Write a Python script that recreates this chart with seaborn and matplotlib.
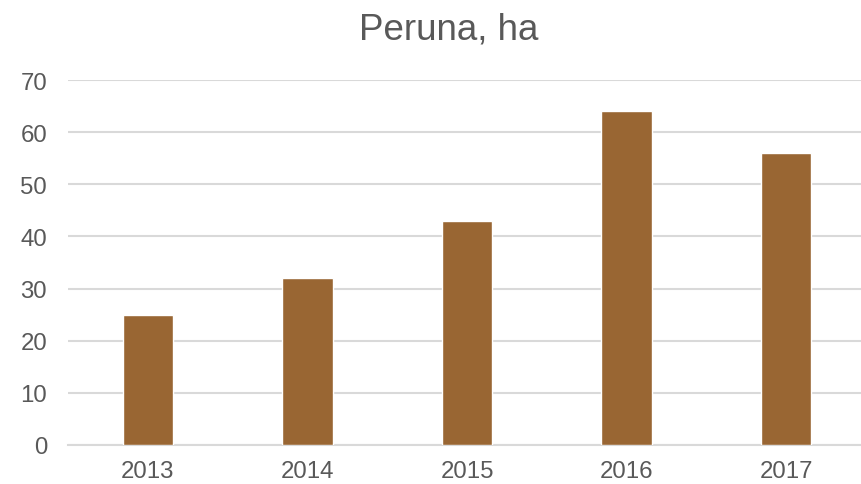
import pandas as pd
import matplotlib.pyplot as plt
import seaborn as sns

years = ['2013', '2014', '2015', '2016', '2017']
hectares = [25, 32, 43, 64, 56]

df = pd.DataFrame({'year': years, 'ha': hectares})

sns.set_style('white')
plt.rcParams['font.family'] = ['Liberation Sans', 'DejaVu Sans']

fig = plt.figure(figsize=(8.61, 4.85), dpi=100)
ax = fig.add_axes([68 / 861, 39 / 485, 798 / 861, 365 / 485])

sns.barplot(data=df, x='year', y='ha', color='#996633', saturation=1,
            width=0.315, ax=ax, zorder=3)

ax.set_xlim(-0.5, 4.5)
ax.set_ylim(0, 70)
ax.set_yticks(range(0, 71, 10))
ax.yaxis.grid(True, color='#d9d9d9', linewidth=1.5, zorder=0)
ax.set_axisbelow(True)
for s in ['top', 'right', 'left']:
    ax.spines[s].set_visible(False)
ax.spines['bottom'].set_color('#d9d9d9')
ax.spines['bottom'].set_linewidth(1.5)

ax.tick_params(axis='both', length=0, labelsize=17.3, labelcolor='#595959')
ax.tick_params(axis='y', pad=15)
ax.tick_params(axis='x', pad=11)
ax.set_xlabel('')
ax.set_ylabel('')

fig.text(0.521, 0.938, 'Peruna, ha', ha='center', va='center',
         fontsize=26.5, color='#595959')

fig.savefig('out.png', dpi=100)
